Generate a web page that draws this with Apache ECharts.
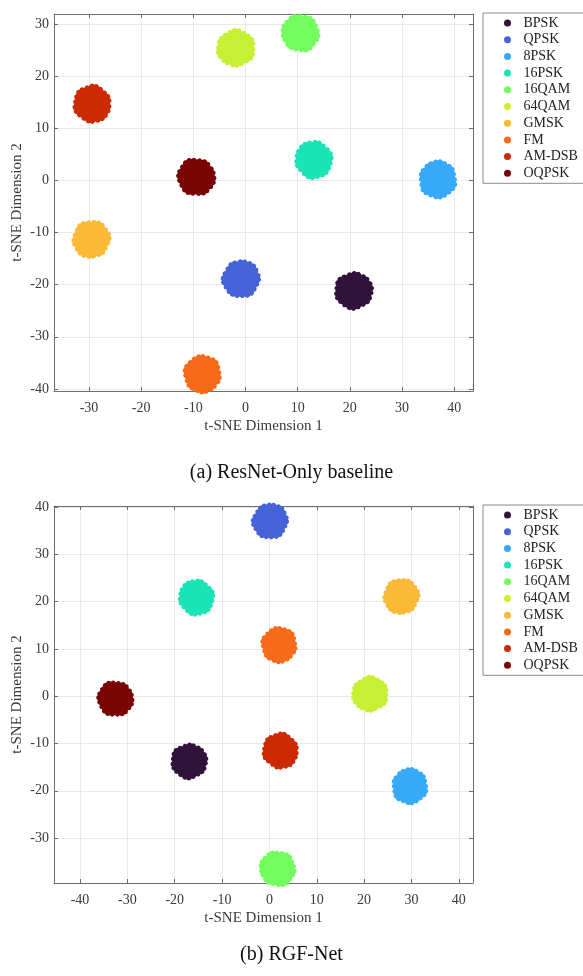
<!DOCTYPE html>
<html><head><meta charset="utf-8">
<script src="https://cdn.jsdelivr.net/npm/echarts@6/dist/echarts.min.js"></script>
<style>html,body{margin:0;padding:0;background:#fff}#c{width:583px;height:976px}</style>
</head><body><div id="c"></div>
<script>
const categories = ['BPSK','QPSK','8PSK','16PSK','16QAM','64QAM','GMSK','FM','AM-DSB','OQPSK'];
const colors = ['#30123b','#4662d7','#36aaf9','#1ae4b6','#72fe5e','#c7ef34','#fbb938','#f66b19','#cb2a04','#7a0403'];
// cluster centres (t-SNE coordinates)
const resnetX = [20.8, -0.8, 36.9, 13.1, 10.5, -1.9, -29.6, -8.3, -29.4, -9.4];
const resnetY = [-21.2, -18.9, 0.2, 4.0, 28.3, 25.4, -11.3, -37.2, 14.6, 0.6];
const rgfX = [-16.9, 0.2, 29.7, -15.4, 1.7, 21.2, 27.8, 2.0, 2.3, -32.5];
const rgfY = [-13.8, 37.0, -19.0, 20.9, -36.4, 0.5, 21.1, 10.8, -11.6, -0.6];
const captions = ['(a) ResNet-Only baseline', '(b) RGF-Net'];
const axisNames = ['t-SNE Dimension 1', 't-SNE Dimension 2'];

// scalloped, slightly irregular disc outline used as the symbol of a dense point cloud
const bumpR = [46, 44, 47, 45, 43, 46, 48, 45, 44, 46, 47, 44, 45, 48, 46, 43, 45, 47, 44, 46, 45, 47];
function blobPath(){
  const n = bumpR.length; let d = '';
  for (let i = 0; i <= n; i++) {
    const k = i % n;
    const a = i / n * Math.PI * 2, am = (i - 0.5) / n * Math.PI * 2;
    const rr = bumpR[k], rc = (bumpR[k] + bumpR[(k + n - 1) % n]) / 2 + 8;
    const px = 50 + rr * Math.cos(a), py = 50 + rr * Math.sin(a);
    if (i === 0) d += 'M' + px.toFixed(2) + ' ' + py.toFixed(2);
    else d += ' Q' + (50 + rc * Math.cos(am)).toFixed(2) + ' ' + (50 + rc * Math.sin(am)).toFixed(2) + ' ' + px.toFixed(2) + ' ' + py.toFixed(2);
  }
  return 'path://' + d + ' Z';
}
const blob = blobPath();
const FONT = "'Liberation Serif','DejaVu Serif',serif";
const axisCol = '#6e6e6e';

const grids = [
  {left: 54, top: 14, width: 419, height: 377},
  {left: 54, top: 506, width: 419, height: 377}
];
const ranges = [
  {x: [-36.7, 43.6], y: [-40.4, 31.9]},
  {x: [-45.5, 43.0], y: [-39.5, 40.2]}
];

const xAxes = [], yAxes = [], series = [], legends = [], titles = [];
[0, 1].forEach(g => {
  const r = ranges[g];
  const base = {
    type: 'value', gridIndex: g, splitNumber: 8,
    axisLine: {show: true, onZero: false, lineStyle: {color: axisCol, width: 1}},
    axisTick: {show: true, inside: true, length: 4, lineStyle: {color: axisCol}},
    splitLine: {show: true, lineStyle: {color: '#e9e9e9', width: 1}},
    axisLabel: {show: true, color: '#3a3a3a', fontFamily: FONT, fontSize: 14, showMinLabel: false, showMaxLabel: false}
  };
  xAxes.push(Object.assign({}, base, {position: 'bottom', min: r.x[0], max: r.x[1],
    name: axisNames[0], nameLocation: 'middle', nameGap: 28, nameMoveOverlap: false,
    nameTextStyle: {fontFamily: FONT, fontSize: 15, color: '#3a3a3a'},
    axisLabel: Object.assign({}, base.axisLabel, {margin: 10})}));
  xAxes.push(Object.assign({}, base, {position: 'top', min: r.x[0], max: r.x[1],
    splitLine: {show: false}, axisLabel: {show: false}}));
  yAxes.push(Object.assign({}, base, {position: 'left', min: r.y[0], max: r.y[1],
    name: axisNames[1], nameLocation: 'middle', nameGap: 29, nameMoveOverlap: false,
    nameTextStyle: {fontFamily: FONT, fontSize: 15, color: '#3a3a3a'},
    axisLabel: Object.assign({}, base.axisLabel, {margin: 5})}));
  yAxes.push(Object.assign({}, base, {position: 'right', min: r.y[0], max: r.y[1],
    splitLine: {show: false}, axisLabel: {show: false}}));

  const xs = g === 0 ? resnetX : rgfX, ys = g === 0 ? resnetY : rgfY;
  categories.forEach((c, i) => {
    series.push({
      type: 'scatter', name: c, xAxisIndex: g * 2, yAxisIndex: g * 2,
      symbol: blob, symbolSize: g === 0 ? 40 : 38, symbolRotate: i * 37,
      itemStyle: {color: colors[i], opacity: 1},
      emphasis: {disabled: true},
      data: [[xs[i], ys[i]]]
    });
  });
  legends.push({
    data: categories.map(c => ({name: c, icon: 'circle'})),
    orient: 'vertical', left: 483, top: grids[g].top - 1,
    itemWidth: 22, itemHeight: 7, itemGap: 2.7,
    padding: [3, 40, 3, 21],
    borderColor: '#8a8a8a', borderWidth: 1, backgroundColor: '#fff',
    textStyle: {fontFamily: FONT, fontSize: 14, color: '#222', lineHeight: 14},
    selectedMode: false
  });
  titles.push({
    text: captions[g], left: 'center', top: g === 0 ? 458 : 940,
    textStyle: {fontFamily: FONT, fontSize: 20, fontWeight: 'normal', color: '#111'}
  });
});

const chart = echarts.init(document.getElementById('c'), null, {renderer: 'canvas'});
chart.setOption({
  animation: false,
  color: colors,
  title: titles,
  grid: grids,
  xAxis: xAxes,
  yAxis: yAxes,
  legend: legends,
  series: series
});
</script>
</body></html>
